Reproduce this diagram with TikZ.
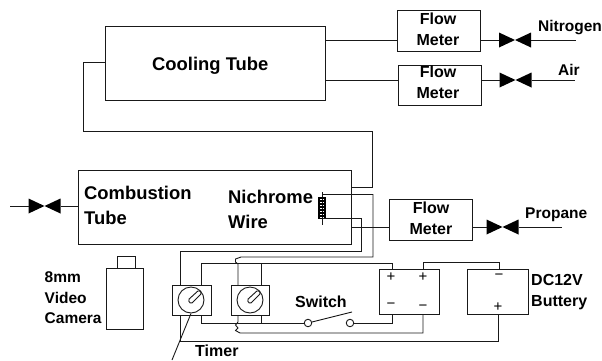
\documentclass[tikz,border=0pt]{standalone}
\usepackage{fontspec}
\setmainfont{Liberation Sans}
\begin{document}
\begin{tikzpicture}[x=1pt,y=-1pt,
  wire/.style={line width=0.9pt,black!90},
  box/.style={draw=black!90,line width=1pt,inner sep=0pt,outer sep=0pt,anchor=north west},
  valve/.style={minimum width=32pt,minimum height=15pt,inner sep=0pt,outer sep=0pt,
    path picture={\fill[black] (path picture bounding box.north west)--(path picture bounding box.south east)--(path picture bounding box.north east)--(path picture bounding box.south west)--cycle;}},
  dial/.style={circle,draw=black!90,line width=0.9pt,minimum size=26pt,inner sep=0pt},
  lab/.style={inner sep=0pt,align=left,text=black},
  big/.style={lab,font=\fontsize{18.4}{25}\selectfont\bfseries},
  mid/.style={lab,font=\fontsize{16}{21}\selectfont\bfseries},
  small/.style={lab,font=\fontsize{15.5}{20.5}\selectfont\bfseries},
  sign/.style={inner sep=0pt,font=\fontsize{15}{15}\selectfont}]
\useasboundingbox (0,0) rectangle (602,360);
% main boxes
\node[box,minimum width=220pt,minimum height=74pt] (cool) at (105,26) {};
\node[box,minimum width=273pt,minimum height=74pt] (comb) at (78,170) {};
\node[box,minimum width=83pt,minimum height=41pt] (fm1) at (397,10) {};
\node[box,minimum width=83pt,minimum height=40pt] (fm2) at (398,65) {};
\node[box,minimum width=83pt,minimum height=41pt] (fm3) at (389,199) {};
\node[box,minimum width=36.5pt,minimum height=61pt] (cam) at (106.5,268) {};
\node[box,minimum width=17.5pt,minimum height=12pt] (lens) at (117.5,256) {};
\node[box,minimum width=38.5pt,minimum height=30pt] (t1) at (172.5,285) {};
\node[box,minimum width=38pt,minimum height=30pt] (t2) at (231.5,285) {};
\node[box,minimum width=60pt,minimum height=45pt] (b1) at (379,269) {};
\node[box,minimum width=61pt,minimum height=45pt] (b2) at (467,269) {};
% valves
\node[valve] (v1) at (515,40) {};
\node[valve] (v2) at (515.5,80) {};
\node[valve] (v3) at (502.5,227) {};
\node[valve] (v4) at (44.5,206) {};
% free ends
\coordinate (n2) at (576,40);
\coordinate (air) at (575,80);
\coordinate (pr) at (562,227);
\coordinate (ex) at (10,206);
% flow lines
\coordinate (c1) at (325,40);
\coordinate (c2) at (325,80);
\draw[wire] (c1) -- (fm1.west |- c1);
\draw[wire] (c2) -- (fm2.west |- c2);
\draw[wire] (fm1.east |- v1) -- (v1.west);
\draw[wire] (v1.east) -- (n2);
\draw[wire] (fm2.east |- v2) -- (v2.west);
\draw[wire] (v2.east) -- (air);
\draw[wire] (fm3.east |- v3) -- (v3.west);
\draw[wire] (v3.east) -- (pr);
\draw[wire] (ex) -- (v4.west);
\draw[wire] (v4.east) -- (comb.west |- v4);
\draw[wire] (comb.east |- v3) -- (fm3.west |- v3);
% cooling tube to combustion tube
\coordinate (k1) at (83,62);
\coordinate (k2) at (83,131);
\coordinate (k3) at (372.5,131);
\coordinate (k4) at (372.5,187);
\draw[wire] (cool.west |- k1) -- (k1) -- (k2) -- (k3) -- (k4) -- (comb.east |- k4);
% nichrome coil
\coordinate (ctop) at (322,192);
\coordinate (cbot) at (322,225);
\draw[wire] (ctop) -- (cbot);
\foreach \yy in {198,201,204,207,210,213,216}
  \draw[line width=1.4pt,black] (319,\yy) rectangle (325,\yy+2.2);
% heater wires
\coordinate (h1) at (322,194.5);
\coordinate (h2) at (373,257);
\coordinate (h3) at (322,218);
\coordinate (h4) at (361,251);
\coordinate (t1a) at (180,285);
\coordinate (t1b) at (201,285);
\coordinate (t2a) at (238,285);
\coordinate (t2b) at (261,285);
\coordinate (t1c) at (180,315);
\coordinate (t1d) at (201,315);
\coordinate (t2c) at (238,315);
\coordinate (t2d) at (261,315);
\coordinate (b1p) at (392,269);
\coordinate (b1m) at (392,314);
\coordinate (b1r) at (423,269);
\coordinate (b1s) at (423,314);
\coordinate (b2t) at (499,269);
\coordinate (b2b) at (498,314);
\draw[wire] (h1) -| (h2) -- (241,257) -- (235.5,259) -- (235.5,262) -- (238,264) -- (t2a);
\draw[wire] (h3) -| (h4) -- (180,251) -- (t1a);
\draw[wire] (t1b) -- (201,263) -| (b1p);
\draw[wire] (t2b) -- (261,263);
\draw[wire] (b1r) -- (423,262) -| (b2t);
% switch
\node[circle,draw=black!90,line width=0.9pt,minimum size=7.5pt,inner sep=0pt] (s1) at (308,323) {};
\node[circle,draw=black!90,line width=0.9pt,minimum size=7.5pt,inner sep=0pt] (s2) at (350,323) {};
\coordinate (arm) at (352,312);
\draw[wire] (s1) -- (arm);
\draw[wire] (t1d) |- (s1.west);
\draw[wire] (t2d) -- (261,323);
\draw[wire] (s2.east) -| (b1m);
\draw[wire] (t2c) -- (238,322) -- (235.5,325) -- (238,328) -- (235.5,330.5) -- (240,333) -| (b1s);
\draw[wire] (t1c) -- (180,341) -| (b2b);
% dials
\node[dial] (d1) at (191,300) {};
\node[dial] (d2) at (250,300) {};
\draw[line width=0.9pt,black!90,rounded corners=1.5pt] (188,300) -- (199,290) -- (202,293) -- (191,304) -- cycle;
\draw[line width=0.9pt,black!90,rounded corners=1.5pt] (247,300) -- (258,290) -- (261,293) -- (250,304) -- cycle;
% timer leader
\coordinate (tl) at (172,360);
\draw[wire] (d1.south) -- (tl);
% signs
\node[sign] at (391,277) {+};
\node[sign] at (391,306) {−};
\node[sign] at (423,277) {+};
\node[sign] at (423,308) {−};
\node[sign] at (499,277) {−};
\node[sign] at (498,307) {+};
% labels
\node[big,anchor=base west] (lc) at (152,70.5) {Cooling Tube};
\node[mid,align=center,anchor=center] (l1) at (438,29.5) {Flow\\Meter};
\node[mid,align=center,anchor=center] (l2) at (438,82.5) {Flow\\Meter};
\node[mid,align=center,anchor=center] (l3) at (431,218.5) {Flow\\Meter};
\node[small,anchor=base west] (ln) at (538,31) {Nitrogen};
\node[small,anchor=base west] (la) at (558,75) {Air};
\node[small,anchor=base west] (lp) at (525,218) {Propane};
\node[big,anchor=west] (lb) at (84,205.5) {Combustion\\Tube};
\node[big,anchor=west] (lw) at (228,209.5) {Nichrome\\Wire};
\node[small,anchor=west] (lv) at (44.5,298) {8mm\\Video\\Camera};
\node[mid,anchor=base west] (ls) at (295,307) {Switch};
\node[mid,anchor=base west] (lt) at (195,356.5) {Timer};
\node[mid,anchor=west] (ld) at (531,292) {DC12V\\Buttery};
\end{tikzpicture}
\end{document}
